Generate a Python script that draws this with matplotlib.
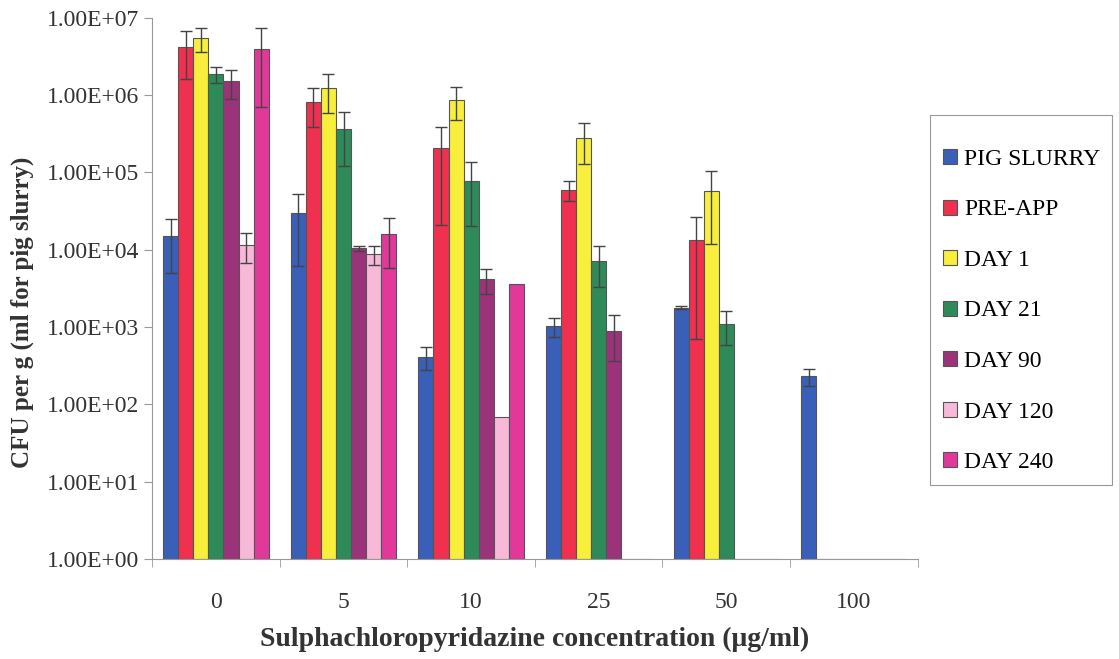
import numpy as np
import matplotlib
matplotlib.use('Agg')
import matplotlib.pyplot as plt
from matplotlib.patches import Rectangle

# concentrations (ug/ml)
conc = ['0', '5', '10', '25', '50', '100']
series = ['PIG SLURRY', 'PRE-APP', 'DAY 1', 'DAY 21', 'DAY 90', 'DAY 120', 'DAY 240']

# CFU values (0 = no growth)
pig_slurry = [1.5e4, 2.97e4, 410, 1.03e3, 1.78e3, 228]
pre_app = [4.2e6, 8.2e5, 2.06e5, 6.0e4, 1.34e4, 0]
day1 = [5.5e6, 1.22e6, 8.7e5, 2.8e5, 5.8e4, 0]
day21 = [1.88e6, 3.6e5, 7.8e4, 7.2e3, 1.1e3, 0]
day90 = [1.5e6, 1.05e4, 4.2e3, 890, 0, 0]
day120 = [1.15e4, 8.7e3, 67, 0, 0, 0]
day240 = [4.0e6, 1.58e4, 3.57e3, 0, 0, 0]

# standard deviations
pig_slurry_err = [1.0e4, 2.35e4, 135, 290, 60, 56]
pre_app_err = [2.6e6, 4.3e5, 1.85e5, 1.7e4, 1.27e4, 0]
day1_err = [1.9e6, 6.4e5, 4.0e5, 1.5e5, 4.6e4, 0]
day21_err = [4.5e5, 2.4e5, 5.8e4, 3.9e3, 520, 0]
day90_err = [6.0e5, 800, 1.5e3, 530, 0, 0]
day120_err = [4.8e3, 2.4e3, 0, 0, 0, 0]
day240_err = [3.3e6, 1.0e4, 0, 0, 0, 0]

values = [pig_slurry, pre_app, day1, day21, day90, day120, day240]
errors = [pig_slurry_err, pre_app_err, day1_err, day21_err, day90_err, day120_err, day240_err]
colors = ['#3a5fb8', '#f0304f', '#f8ef3c', '#2e8a58', '#9a3379', '#f7b9d7', '#e0399a']

plt.rcParams['font.family'] = ['Liberation Serif', 'DejaVu Serif']

fig = plt.figure(figsize=(11.19, 6.59), dpi=100)
ax = fig.add_axes([0.136, 0.152, 0.684, 0.821])

x = np.arange(len(conc))
w = 0.118
for i, (name, vals, errs, c) in enumerate(zip(series, values, errors, colors)):
    pos = x + (i - 3) * w
    vals = np.array(vals, dtype=float)
    errs = np.array(errs, dtype=float)
    ax.bar(pos, vals, width=w, bottom=1, color=c, edgecolor='#555555',
           linewidth=0.8, label=name)
    m = errs > 0
    lower = np.minimum(errs[m], vals[m] - 1)
    ax.errorbar(pos[m], vals[m] + 1, yerr=[lower, errs[m]], fmt='none',
                ecolor='#444444', elinewidth=1, capsize=4, capthick=1)

ax.set_yscale('log')
ax.set_ylim(1, 1e7)
ax.set_xlim(-0.5, len(conc) - 0.5)
ax.set_yticks([10.0 ** k for k in range(8)])
ax.set_yticklabels(['1.00E+%02d' % k for k in range(8)])
ax.yaxis.set_minor_locator(matplotlib.ticker.NullLocator())

ax.set_xticks(x)
ax.set_xticklabels(conc)
ax.set_xticks(np.arange(len(conc) + 1) - 0.5, minor=True)
ax.tick_params(axis='x', which='major', length=0, pad=24, labelsize=17, colors='#333333')
ax.tick_params(axis='x', which='minor', length=6, color='#999999')
ax.tick_params(axis='y', length=6, color='#999999', labelsize=17, labelcolor='#333333')

for s in ['top', 'right']:
    ax.spines[s].set_visible(False)
for s in ['left', 'bottom']:
    ax.spines[s].set_color('#999999')

ax.set_xlabel('Sulphachloropyridazine concentration (\u03bcg/ml)', fontsize=20,
              fontweight='bold', labelpad=10, color='#333333')
ax.set_ylabel('CFU per g (ml for pig slurry)', fontsize=18, fontweight='bold',
              color='#333333')
ax.yaxis.set_label_coords(-0.154, 0.456)

leg = fig.legend(loc='upper left', bbox_to_anchor=(0.8427, 0.774), fontsize=17,
                 frameon=False, labelspacing=1.25, handlelength=0.6,
                 handleheight=0.6, handletextpad=0.3, borderpad=0,
                 borderaxespad=0)
fig.patches.append(Rectangle((0.831, 0.264), 0.1626, 0.561, transform=fig.transFigure,
                             fill=False, edgecolor='#999999', linewidth=0.8))

fig.savefig('out.png', dpi=100)
